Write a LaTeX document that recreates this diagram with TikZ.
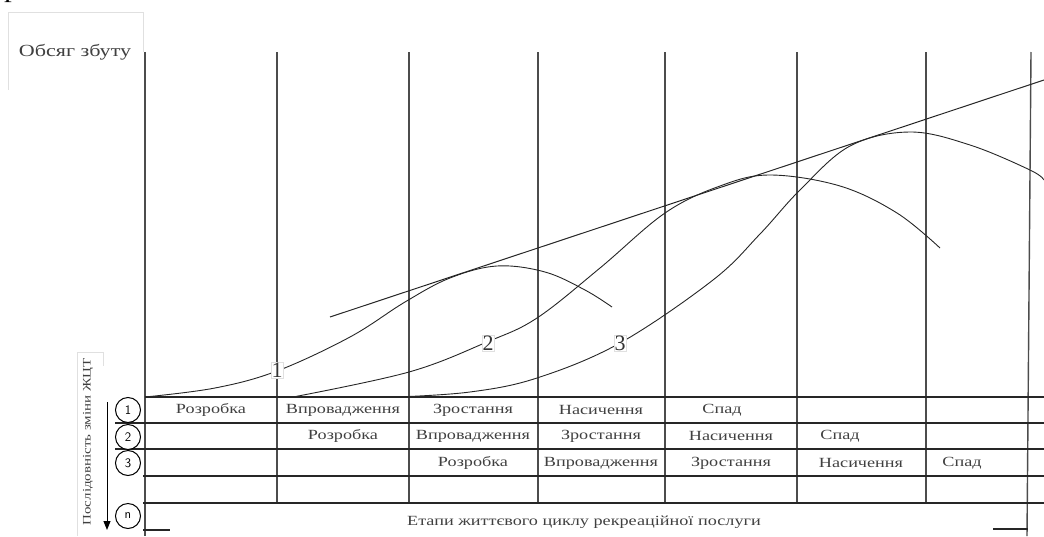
\documentclass[tikz,border=0pt]{standalone}
\usepackage{fontspec}
\setmainfont{Liberation Serif}
\newfontfamily\widefont{Liberation Serif}[FakeStretch=1.3]
\usetikzlibrary{arrows.meta}

\begin{document}
\begin{tikzpicture}[
  x=1pt, y=-1pt,
  >={Triangle[length=9pt, width=7pt]},
  gridline/.style={line width=1.3pt, black!85},
  colline/.style={line width=1.4pt, black!70},
  curve/.style={line width=0.9pt, black!85},
  tangent/.style={line width=1pt, black!85},
  stage/.style={font=\widefont\fontsize{14}{16}\selectfont, text=black!75, inner sep=0pt},
  numcirc/.style={draw, circle, line width=1pt, minimum size=25pt,
    inner sep=0pt, fill=white, font=\fontsize{13}{13}\selectfont\sffamily},
  curvelabel/.style={draw=black!12, fill=white, inner sep=0.5pt,
    font=\fontsize{22}{22}\selectfont, text=black!80},
  faintbox/.style={draw=black!12, line width=0.8pt},
]
\useasboundingbox (0,0) rectangle (1044,536);

% ===== Cut-off caption at the top =====
\begin{scope}
  \clip (0,0) rectangle (1044,536);
  \node[anchor=base west, inner sep=0pt, font=\widefont\fontsize{24}{26}\selectfont]
    (cap) at (4,-3) {рис. 5.7};
\end{scope}

% ===== Axis label =====
\draw[faintbox] (8,90) -- (8,12) -- (143,12) -- (143,52);
\node[font=\widefont\fontsize{17}{18}\selectfont, text=black!75] (ylabel) at (75,52) {Обсяг збуту};

% ===== Column lines =====
\foreach \x/\name in {277/c2, 409/c3, 538/c4, 665/c5, 797/c6, 926/c7} {
  \coordinate (\name) at (\x,52);
  \draw[colline] (\name) -- (\x,503);
}
\coordinate (c1) at (145,52);
\draw[colline] (c1) -- (145,536);
\coordinate (c8) at (1031,52);
\draw[colline] (c8) -- (1027,536);

% ===== Table rows =====
\draw[gridline] (145,397) -- (1044,397);
\draw[gridline] (115,423) -- (1044,423);
\draw[gridline] (115,449) -- (1044,449);
\draw[gridline] (143,476) -- (1044,476);
\draw[gridline] (143,503) -- (1044,503);
\draw[gridline] (143,530) -- (170,530);
\draw[gridline] (993,529) -- (1028,529);

% ===== Life cycle curves =====
\draw[tangent] (330,317) -- (1044,80);
\draw[curve] plot[smooth, tension=0.6] coordinates {(145,397) (215,388) (277,371)
  (350,337) (405,302) (450,278) (497,266) (545,272) (585,290) (612,307)};
\draw[curve] plot[smooth, tension=0.6] coordinates {(293,397) (409,372) (487,342)
  (537,318) (600,268) (665,213) (720,186) (770,175) (840,186) (897,213) (940,248)};
\draw[curve] plot[smooth, tension=0.6] coordinates {(397,397) (470,392) (537,378)
  (620,343) (713,280) (760,234) (800,190) (850,146) (910,132) (970,145)
  (1030,170) (1044,180)};

\node[curvelabel] (lab1) at (277,370) {1};
\node[curvelabel] (lab2) at (488,343) {2};
\node[curvelabel] (lab3) at (620,343) {3};

% ===== Stage names =====
\node[stage] (r1a) at (211,410) {Розробка};
\node[stage] (r1b) at (343,410) {Впровадження};
\node[stage] (r1c) at (473,410) {Зростання};
\node[stage] (r1d) at (601,410) {Насичення};
\node[stage] (r1e) at (722,410) {Спад};

\node[stage] (r2a) at (343,436) {Розробка};
\node[stage] (r2b) at (473,436) {Впровадження};
\node[stage] (r2c) at (601,436) {Зростання};
\node[stage] (r2d) at (731,436) {Насичення};
\node[stage] (r2e) at (840,436) {Спад};

\node[stage] (r3a) at (473,463) {Розробка};
\node[stage] (r3b) at (601,463) {Впровадження};
\node[stage] (r3c) at (731,463) {Зростання};
\node[stage] (r3d) at (861,463) {Насичення};
\node[stage] (r3e) at (962,463) {Спад};

\node[stage] (caption) at (584,522) {Етапи життєвого циклу рекреаційної послуги};

% ===== Sequence of changes =====
\node[numcirc] (n1) at (128,410) {1};
\node[numcirc] (n2) at (128,437) {2};
\node[numcirc] (n3) at (128,463) {3};
\node[numcirc] (nn) at (128,516) {n};

\coordinate (seqtop) at (107,402);
\coordinate (seqbot) at (107,530);
\draw[->, line width=1pt] (seqtop) -- (seqbot);

\draw[faintbox] (77,536) -- (77,352) -- (103,352) -- (103,366);
\node[rotate=90, font=\widefont\fontsize{11.5}{12}\selectfont, text=black!75] (seqlabel)
  at (88,442) {Послідовність зміни ЖЦТ};

\end{tikzpicture}
\end{document}
